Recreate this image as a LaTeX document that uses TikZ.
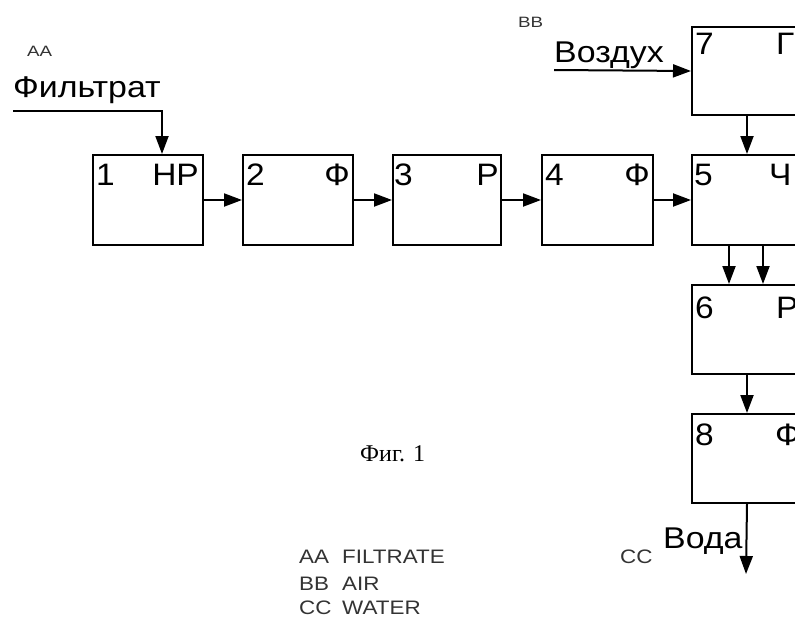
\documentclass[tikz,border=0pt]{standalone}
\usepackage{fontspec}
\setmainfont{Liberation Sans}
\newfontfamily\serifft{Liberation Serif}
\usetikzlibrary{arrows.meta}
\newcommand{\wideA}[1]{\scalebox{1.13}[1]{#1}}
\newcommand{\wideB}[1]{\scalebox{1.08}[1]{#1}}
\newcommand{\wideC}[1]{\scalebox{1.25}[1]{#1}}
\newcommand{\wideD}[1]{\scalebox{1.15}[1]{#1}}
\begin{document}
\begin{tikzpicture}[x=1pt,y=-1pt,
  blk/.style={draw,line width=2pt,rectangle,minimum width=110pt,minimum height=90pt,anchor=north west,inner sep=0pt},
  arr/.style={line width=2pt,-{Triangle[length=18pt,width=13pt]}},
  big/.style={font=\fontsize{30}{32}\selectfont,inner sep=0pt,anchor=base west},
  lbl/.style={font=\fontsize{31}{33}\selectfont,inner sep=0pt},
  sml/.style={font=\fontsize{15}{17}\selectfont,inner sep=0pt,anchor=base west,text=black!80},
  leg/.style={font=\fontsize{19.5}{21}\selectfont,inner sep=0pt,anchor=base west,text=black!80}]
\useasboundingbox (0,0) rectangle (795,618);
\clip (0,0) rectangle (795,618);
\fill[white] (0,0) rectangle (795,618);
% boxes
\node[blk] (b1) at (92,154) {};
\node[blk] (b2) at (242,154) {};
\node[blk,minimum width=108pt] (b3) at (392,154) {};
\node[blk,minimum width=111pt] (b4) at (541,154) {};
\node[blk] (b5) at (691,154) {};
\node[blk,minimum height=88pt] (b7) at (691,26) {};
\node[blk,minimum height=89pt] (b6) at (691,284) {};
\node[blk,minimum height=89pt] (b8) at (691,413) {};
% labels in boxes
\node[lbl,anchor=base west] (n1) at (96,185) {\wideB{1}};
\node[lbl,anchor=base east] (t1) at (199,185) {\wideB{НР}};
\node[lbl,anchor=base west] (n2) at (246,185) {\wideB{2}};
\node[lbl,anchor=base east] (t2) at (350,185) {\wideB{Ф}};
\node[lbl,anchor=base west] (n3) at (394,185) {\wideB{3}};
\node[lbl,anchor=base east] (t3) at (499,185) {\wideB{Р}};
\node[lbl,anchor=base west] (n4) at (545,185) {\wideB{4}};
\node[lbl,anchor=base east] (t4) at (650,185) {\wideB{Ф}};
\node[lbl,anchor=base west] (n5) at (694,185) {\wideB{5}};
\node[lbl,anchor=base west] (t5) at (769,185) {\wideB{Ч}};
\node[lbl,anchor=base west] (n7) at (695,55) {\wideB{7}};
\node[lbl,anchor=base west] (t7) at (776,55) {\wideB{Г}};
\node[lbl,anchor=base west] (n6) at (695,318) {\wideB{6}};
\node[lbl,anchor=base west] (t6) at (776,318) {\wideB{Р}};
\node[lbl,anchor=base west] (n8) at (695,445) {\wideB{8}};
\node[lbl,anchor=base west] (t8) at (775,445) {\wideB{Ф}};
% texts
\node[sml] (aa) at (27,57) {\wideC{AA}};
\node[big] (filt) at (13,97) {\wideA{Фильтрат}};
\node[sml] (bb) at (518,28) {\wideC{BB}};
\node[big] (air) at (554,63) {\wideA{Воздух}};
\node[big] (water) at (663,548) {\wideA{Вода}};
\node[leg] (cc) at (620,563) {\wideD{CC}};
\node[inner sep=0pt,font=\serifft\fontsize{24}{26}\selectfont,anchor=base west] (fig) at (360,461) {Фиг. 1};
\node[leg] (la) at (299,563) {\wideD{AA}};
\node[leg] (lat) at (342,563) {\wideD{FILTRATE}};
\node[leg] (lb) at (299,590) {\wideD{BB}};
\node[leg] (lbt) at (342,590) {\wideD{AIR}};
\node[leg] (lc) at (299,614) {\wideD{CC}};
\node[leg] (lct) at (342,614) {\wideD{WATER}};
% connectors
\coordinate (f0) at (13,111);
\coordinate (a0) at (554,70);
\coordinate (w1) at (746,574);
\draw[arr] (f0) -| ([xshift=14pt]b1.north);
\draw[arr] (a0) -- (b7.west);
\draw[arr] (b1.east) -- (b2.west);
\draw[arr] (b2.east) -- (b3.west);
\draw[arr] (b3.east) -- (b4.west);
\draw[arr] (b4.east) -- (b5.west);
\draw[arr] (b7.south) -- (b5.north);
\draw[arr] ([xshift=-18pt]b5.south) -- ([xshift=-18pt]b6.north);
\draw[arr] ([xshift=16pt]b5.south) -- ([xshift=16pt]b6.north);
\draw[arr] (b6.south) -- (b8.north);
\draw[arr] (b8.south) -- (w1);
\end{tikzpicture}
\end{document}
